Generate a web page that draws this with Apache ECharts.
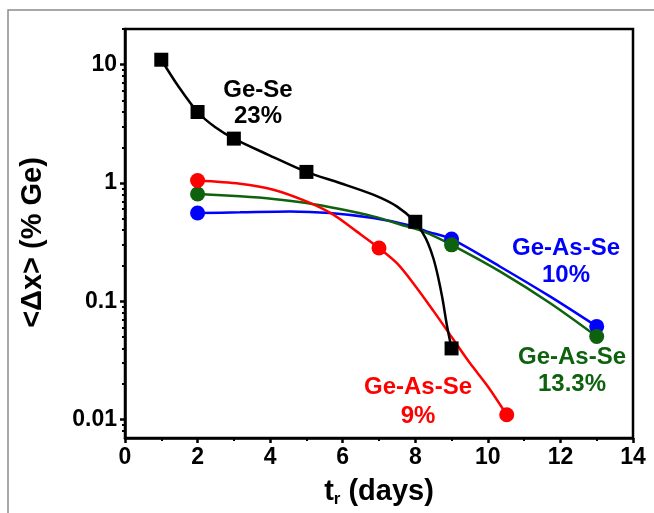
<!DOCTYPE html>
<html>
<head>
<meta charset="utf-8">
<script src="https://cdn.jsdelivr.net/npm/echarts@6/dist/echarts.min.js"></script>
<style>
  html, body { margin: 0; padding: 0; background: #fff; }
  #chart { width: 654px; height: 513px; }
</style>
</head>
<body>
<div id="chart"></div>
<script>
// measured points [t_r (days), <dx> (% Ge)]
const geSePts = [[1, 11], [2, 3.98], [3, 2.37], [5, 1.24], [8, 0.47], [9, 0.04]];
const as9Pts = [[2, 1.05], [7, 0.282], [10.52, 0.011]];
const as10Pts = [[2, 0.557], [9, 0.336], [13, 0.0614]];
const as13Pts = [[2, 0.807], [9, 0.30], [13, 0.0505]];

// fitted curves
const geSeCurve = [[1, 11], [1.47, 6.56], [2, 3.98], [2.48, 2.97], [3, 2.37], [3.95, 1.73],
  [5, 1.24], [5.92, 1.0], [6.84, 0.796], [7.49, 0.634], [8, 0.47], [8.2, 0.38],
  [8.35, 0.31], [8.5, 0.23], [8.63, 0.16], [8.75, 0.105], [8.87, 0.063], [9, 0.04]];
const as9Curve = [[2, 1.05], [3.17, 0.986], [4.09, 0.877], [5, 0.698], [5.74, 0.54], [6.38, 0.39],
  [7, 0.282], [7.5, 0.209], [8, 0.135], [8.5, 0.083], [9, 0.05], [9.5, 0.0302], [10, 0.0191], [10.52, 0.011]];
const as10Curve = [[2, 0.557], [3.17, 0.565], [4.55, 0.575], [5.65, 0.557], [6.84, 0.506], [7.76, 0.444],
  [8.31, 0.39], [9, 0.336], [10.33, 0.197], [11.71, 0.11], [13, 0.0614]];
const as13Curve = [[2, 0.807], [3.17, 0.771], [4.09, 0.733], [5, 0.678], [5.92, 0.603], [6.84, 0.522],
  [7.76, 0.43], [8.22, 0.39], [9, 0.30], [10.33, 0.179], [11.71, 0.0968], [13, 0.0505]];

const yMajor = [0.01, 0.1, 1, 10];
const yMinor = [0.008, 0.009, 0.02, 0.03, 0.04, 0.05, 0.06, 0.07, 0.08, 0.09,
  0.2, 0.3, 0.4, 0.5, 0.6, 0.7, 0.8, 0.9, 2, 3, 4, 5, 6, 7, 8, 9, 20];

const FONT = '"Liberation Sans", Arial, sans-serif';
const GREEN = '#0e620e';

const chart = echarts.init(document.getElementById('chart'));

function curve(data, color) {
  return {
    type: 'line', data: data, smooth: 0.3, showSymbol: false, symbol: 'none',
    lineStyle: { color: color, width: 2.5 }, z: 2, silent: true
  };
}
function dots(data, color, symbol, size) {
  return {
    type: 'scatter', data: data, symbol: symbol, symbolSize: size,
    itemStyle: { color: color, opacity: 1 }, z: 3
  };
}

chart.setOption({
  animation: false,
  backgroundColor: '#fff',
  grid: {
    left: 125, right: 21, top: 29, bottom: 75,
    show: true, borderColor: '#000', borderWidth: 2.5, backgroundColor: 'transparent'
  },
  xAxis: {
    type: 'value', min: 0, max: 14, interval: 2,
    name: '{t|t}{s|r}{t| (days)}',
    nameLocation: 'middle', nameGap: 37,
    nameTextStyle: {
      rich: {
        t: { fontFamily: FONT, fontWeight: 'bold', fontSize: 29, color: '#000' },
        s: { fontFamily: FONT, fontWeight: 'bold', fontSize: 17, color: '#000', padding: [16, 0, 0, 0] }
      }
    },
    axisLine: { lineStyle: { color: '#000', width: 2.5 } },
    axisTick: { length: 5, lineStyle: { color: '#000', width: 2.5 } },
    minorTick: { show: true, splitNumber: 2, length: 3, lineStyle: { color: '#000', width: 2 } },
    axisLabel: { fontFamily: FONT, fontWeight: 'bold', fontSize: 23, color: '#000', margin: 8 },
    splitLine: { show: false }
  },
  yAxis: [{
    type: 'log', logBase: 10, min: 0.007, max: 20,
    name: '<Δx> (% Ge)',
    nameLocation: 'middle', nameGap: 78,
    nameTextStyle: { fontFamily: FONT, fontWeight: 'bold', fontSize: 29, color: '#000', padding: [0, 18, 0, 0] },
    axisLine: { lineStyle: { color: '#000', width: 2.5 } },
    axisTick: { customValues: yMajor, length: 5, lineStyle: { color: '#000', width: 2.5 } },
    axisLabel: {
      customValues: yMajor, fontFamily: FONT, fontWeight: 'bold', fontSize: 23, color: '#000', margin: 8,
      formatter: function (v) { return String(+Number(v).toPrecision(3)); }
    },
    splitLine: { show: false }
  }, {
    type: 'log', logBase: 10, min: 0.007, max: 20, position: 'left',
    axisLine: { show: false },
    axisTick: { customValues: yMinor, length: 3, lineStyle: { color: '#000', width: 2 } },
    axisLabel: { show: false },
    splitLine: { show: false }
  }],
  graphic: [
    {
      type: 'rect', silent: true, z: -10,
      shape: { x: 8, y: 10, width: 700, height: 600 },
      style: { fill: null, stroke: '#8c8c8c', lineWidth: 1.5 }
    },
    {
      type: 'text', x: 258, y: 103, silent: true,
      style: { text: 'Ge-Se\n23%', fill: '#000', font: 'bold 24px ' + FONT, align: 'center', verticalAlign: 'middle', lineHeight: 26 }
    },
    {
      type: 'text', x: 566, y: 262, silent: true,
      style: { text: 'Ge-As-Se\n10%', fill: '#0000ff', font: 'bold 24px ' + FONT, align: 'center', verticalAlign: 'middle', lineHeight: 27 }
    },
    {
      type: 'text', x: 572, y: 371, silent: true,
      style: { text: 'Ge-As-Se\n13.3%', fill: GREEN, font: 'bold 24px ' + FONT, align: 'center', verticalAlign: 'middle', lineHeight: 27 }
    },
    {
      type: 'text', x: 418, y: 402, silent: true,
      style: { text: 'Ge-As-Se\n9%', fill: '#ff0000', font: 'bold 24px ' + FONT, align: 'center', verticalAlign: 'middle', lineHeight: 29 }
    }
  ],
  series: [
    curve(as10Curve, '#0000ff'),
    curve(as13Curve, GREEN),
    curve(as9Curve, '#ff0000'),
    curve(geSeCurve, '#000'),
    dots(as10Pts, '#0000ff', 'circle', 15),
    dots(as13Pts, GREEN, 'circle', 15),
    dots(as9Pts, '#ff0000', 'circle', 15),
    dots(geSePts, '#000', 'rect', 14)
  ]
});
</script>
</body>
</html>
